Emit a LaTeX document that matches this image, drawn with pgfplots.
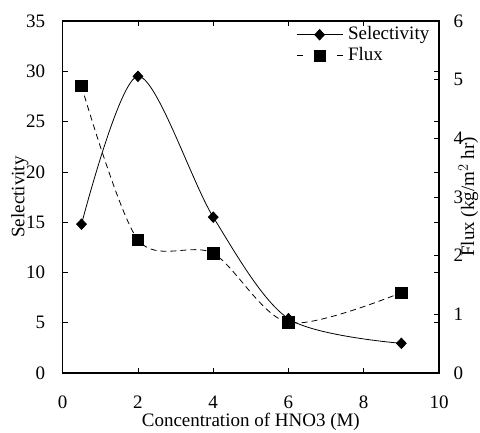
\documentclass[border=0pt]{standalone}
\usepackage{fontspec}
\setmainfont{Liberation Serif}
\usepackage{pgfplots}
\pgfplotsset{compat=1.18}

\pgfplotsset{
  base/.style={
    scale only axis,
    width=376.3pt, height=352pt,
    xmin=0, xmax=10,
    tick align=inside,
    major tick length=5pt,
    tick style={line width=0.5pt, black},
    axis line style={line width=1.3pt},
    /pgf/number format/assume math mode=true,
  },
}

\begin{document}
\fontsize{19}{23}\selectfont
\begin{tikzpicture}
\begin{axis}[
  base,
  ymin=0, ymax=35,
  xtick={0,2,...,10},
  ytick={0,5,...,35},
  xticklabel style={inner sep=0pt, yshift=-23pt},
  yticklabel style={xshift=-11pt},
  xlabel={Concentration of HNO3 (M)},
  xlabel style={at={(axis description cs:0.5,-0.114)}, anchor=north, inner sep=0pt},
  ylabel={Selectivity},
  ylabel style={at={(axis description cs:-0.114,0.5)}, anchor=center},
  legend style={draw=none, fill=none, at={(axis description cs:0.62,0.99)},
    anchor=north west, inner sep=0pt, row sep=1pt,
    nodes={inner sep=2pt}},
  legend cell align=left,
  legend image code/.code={
    \draw[mark repeat=2, mark phase=2] plot coordinates {(0pt,0pt) (23pt,0pt) (46pt,0pt)};
  },
]
\addplot[black, line width=0.8pt, smooth, mark=diamond*, mark size=5.2pt,
  mark options={solid, xscale=1.25}] coordinates {
  (0.5,14.8) (2,29.5) (4,15.5) (6,5.4) (9,2.95)
};
\addlegendentry{\hspace{3pt}Selectivity}
\addlegendimage{black, line width=0.8pt, dash pattern=on 6pt off 34pt on 6pt, mark=square*, mark size=5.7pt, mark options={solid}}
\addlegendentry{\hspace{3pt}Flux}
\end{axis}
\begin{axis}[
  base,
  ymin=0, ymax=6,
  axis x line=none,
  axis y line*=right,
  ytick={0,1,...,6},
  yticklabel style={xshift=8pt},
  ylabel={Flux (kg/m$^{2}$ hr)},
  ylabel style={at={(axis description cs:1.078,0.5)}, anchor=center, rotate=0, inner sep=0pt},
]
\addplot[black, line width=0.8pt, smooth, dash pattern=on 6pt off 4pt,
  mark=square*, mark size=5.7pt, mark options={solid}] coordinates {
  (0.5,4.89) (2,2.27) (4,2.04) (6,0.86) (9,1.37)
};
\end{axis}
\pgfresetboundingbox
\path (-62.7pt,-59pt) rectangle (417.3pt,373pt);
\end{tikzpicture}
\end{document}
